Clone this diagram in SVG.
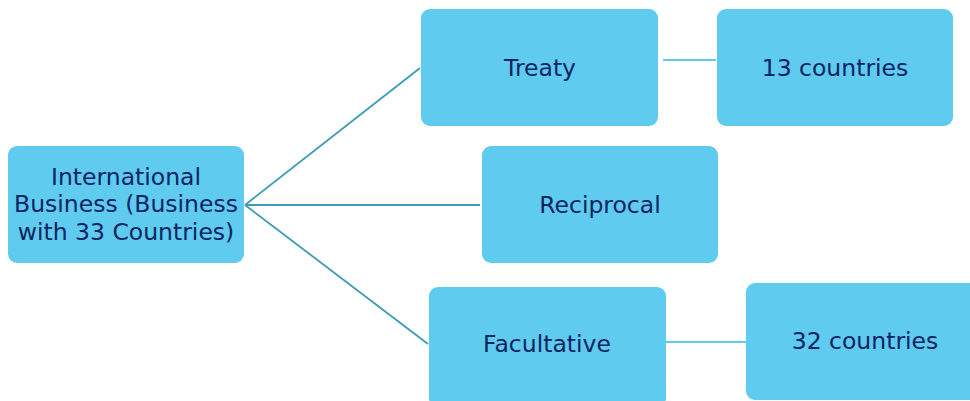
<svg xmlns="http://www.w3.org/2000/svg" width="970" height="401" viewBox="0 0 970 401">
<style>
.box{fill:#5ecbef;}
.t{font-family:"DejaVu Sans",sans-serif;font-size:23.5px;fill:#0c2461;text-anchor:middle;}
.c1{stroke:#3d9bb5;stroke-width:1.8;fill:none;}
.c2{stroke:#5ecbef;stroke-width:1.8;fill:none;}
</style>
<rect width="970" height="401" fill="#ffffff"/>
<g id="connectors">
<line class="c1" x1="245" y1="205" x2="420" y2="68"/>
<line class="c1" x1="245" y1="205" x2="480" y2="205"/>
<line class="c1" x1="245" y1="205" x2="428" y2="344"/>
<line class="c2" x1="663" y1="60" x2="716" y2="60"/>
<line class="c2" x1="666" y1="342" x2="746" y2="342"/>
</g>
<g id="main">
<rect class="box" x="8" y="146" width="236" height="117" rx="9"/>
<text class="t" x="126" y="185">International</text>
<text class="t" x="126" y="212">Business (Business</text>
<text class="t" x="126" y="240">with 33 Countries)</text>
</g>
<g id="treaty">
<rect class="box" x="421" y="9" width="237" height="117" rx="9"/>
<text class="t" x="540" y="76">Treaty</text>
</g>
<g id="treaty-countries">
<rect class="box" x="717" y="9" width="236" height="117" rx="9"/>
<text class="t" x="835" y="76">13 countries</text>
</g>
<g id="reciprocal">
<rect class="box" x="482" y="146" width="236" height="117" rx="9"/>
<text class="t" x="600" y="213">Reciprocal</text>
</g>
<g id="facultative">
<rect class="box" x="429" y="287" width="237" height="120" rx="9"/>
<text class="t" x="547" y="352">Facultative</text>
</g>
<g id="facultative-countries">
<rect class="box" x="746" y="283" width="236" height="117" rx="9"/>
<text class="t" x="865" y="349">32 countries</text>
</g>
</svg>
